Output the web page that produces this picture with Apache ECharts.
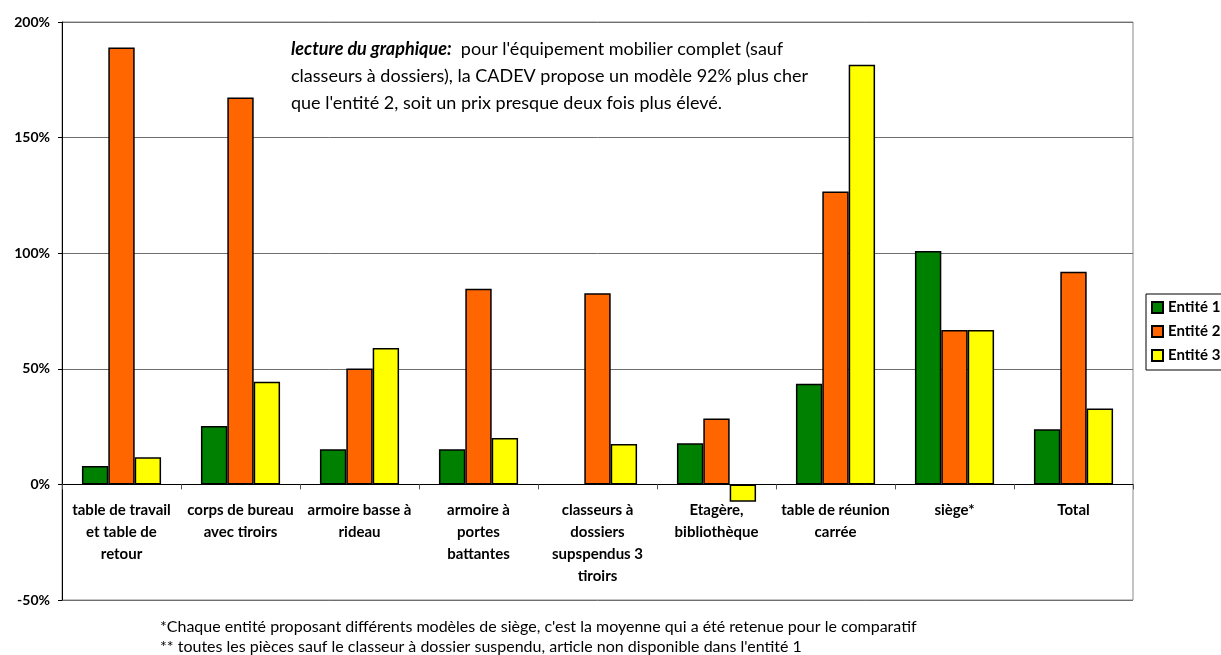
<!DOCTYPE html>
<html>
<head>
<meta charset="utf-8">
<script src="https://cdn.jsdelivr.net/npm/echarts@6/dist/echarts.min.js"></script>
<style>
  html, body { margin: 0; padding: 0; background: #fff; }
  #chart { width: 1221px; height: 655px; }
</style>
</head>
<body>
<div id="chart"></div>
<script>
// Furniture items compared (line breaks follow the axis label wrapping)
const categories = [
  'table de travail\net table de\nretour',
  'corps de bureau\navec tiroirs',
  'armoire basse à\nrideau',
  'armoire à\nportes\nbattantes',
  'classeurs à\ndossiers\nsupspendus 3\ntiroirs',
  'Etagère,\nbibliothèque',
  'table de réunion\ncarrée',
  'siège*',
  'Total'
];

// Price difference in percent, per entity
const entite1 = [8, 25.3, 15.2, 15.2, null, 17.8, 43.5, 101, 23.9];
const entite2 = [189, 167.3, 50.1, 84.6, 82.7, 28.5, 126.7, 66.8, 92];
const entite3 = [11.7, 44.4, 59, 20.1, 17.5, -7.5, 181.5, 66.8, 32.8];

const seriesNames = ['Entité 1', 'Entité 2', 'Entité 3'];
const seriesColors = ['#008000', '#FF6600', '#FFFF00'];

const yTicks = { min: -50, max: 200, step: 50 };

const noteLines = [
  [{ t: 'lecture du graphique:', s: 'b' }, { t: '  pour l\'équipement mobilier complet (sauf', s: 'r' }],
  [{ t: 'classeurs à dossiers), la CADEV propose un modèle 92% plus cher', s: 'r' }],
  [{ t: 'que l\'entité 2, soit un prix presque deux fois plus élevé.', s: 'r' }]
];

const footnotes = [
  '*Chaque entité proposant différents modèles de siège, c\'est la moyenne qui a été retenue pour le comparatif',
  '** toutes les pièces sauf le classeur à dossier suspendu, article non disponible dans l\'entité 1'
];

const FONT = 'Lato, "Liberation Sans", sans-serif';

const chart = echarts.init(document.getElementById('chart'), null, { renderer: 'canvas' });

const allData = [entite1, entite2, entite3];

const option = {
  backgroundColor: '#ffffff',
  animation: false,
  textStyle: { fontFamily: FONT },
  grid: {
    left: 62, right: 88, top: 22, bottom: 55,
    show: true, borderColor: '#8a8a8a', borderWidth: 1,
    containLabel: false,
    outerBoundsMode: 'none'
  },
  legend: {
    orient: 'vertical',
    left: 1146, top: 294,
    padding: [6, 6, 7, 5],
    itemWidth: 11, itemHeight: 11, itemGap: 9,
    itemTextGap: 5,
    borderColor: '#000', borderWidth: 1,
    icon: 'rect',
    textStyle: { fontFamily: FONT, fontWeight: 'bold', fontSize: 15, color: '#000' },
    data: seriesNames
  },
  xAxis: {
    type: 'category',
    data: categories,
    boundaryGap: true,
    axisLine: { onZero: false, lineStyle: { color: '#000', width: 1 } },
    axisTick: { show: true, length: 5, inside: false, alignWithLabel: false, lineStyle: { color: '#555' } },
    axisLabel: {
      interval: 0, margin: 15,
      fontFamily: FONT, fontWeight: 'bold', fontSize: 15, color: '#000',
      lineHeight: 22
    },
    splitLine: { show: false }
  },
  yAxis: {
    type: 'value',
    min: yTicks.min, max: yTicks.max, interval: yTicks.step,
    axisLine: { show: true, lineStyle: { color: '#000', width: 1 } },
    axisTick: { show: true, length: 4, lineStyle: { color: '#000' } },
    axisLabel: {
      formatter: '{value}%', margin: 12,
      fontFamily: FONT, fontWeight: 'bold', fontSize: 14, color: '#000'
    },
    splitLine: { show: true, lineStyle: { color: '#6e6e6e', width: 1 } }
  },
  series: seriesNames.map((name, i) => ({
    name,
    type: 'bar',
    data: allData[i],
    barGap: '0%',
    barCategoryGap: '33.5%',
    itemStyle: {
      color: seriesColors[i],
      borderColor: '#000',
      borderWidth: 1.5
    },
    emphasis: { disabled: true }
  })),
  graphic: [
    {
      type: 'text',
      left: 291, top: 40,
      style: {
        rich: {
          b: { fontFamily: FONT, fontSize: 18, fontWeight: 'bold', fontStyle: 'italic', fill: '#000', lineHeight: 27 },
          r: { fontFamily: FONT, fontSize: 18, fill: '#000', lineHeight: 27 }
        },
        text: noteLines.map(line => line.map(p => '{' + p.s + '|' + p.t.replace(/[{}|]/g, '') + '}').join('')).join('\n')
      }
    },
    {
      type: 'text',
      left: 160, top: 617,
      style: {
        text: footnotes.join('\n'),
        fontFamily: FONT, fontSize: 16, fill: '#000', lineHeight: 20
      }
    }
  ]
};

chart.setOption(option);

// Move the category axis (line, ticks, labels) up to the 0% level
const zeroPx = chart.convertToPixel({ yAxisIndex: 0 }, 0);
const bottomPx = chart.convertToPixel({ yAxisIndex: 0 }, yTicks.min);
chart.setOption({ xAxis: { offset: zeroPx - bottomPx } });
</script>
</body>
</html>
